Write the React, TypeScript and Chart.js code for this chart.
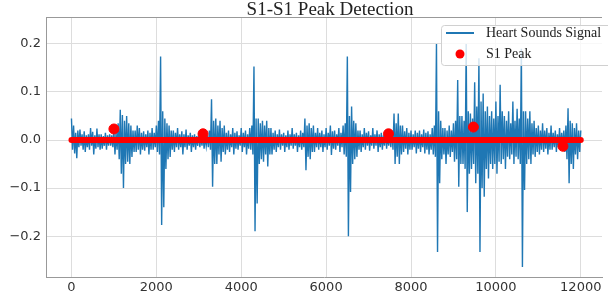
import React, { useEffect, useRef } from "react";
import { Chart, registerables } from "chart.js";
Chart.register(...registerables);

// Heart sounds signal: sample spacing and envelope (upper / lower) per 50 samples
const signalStep = 50;
const signalUpper = [
  0.045, 0.03, 0.015, 0.02, 0.022, 0.012, 0.018, 0.01, 0.012, 0.025,
  0.017, 0.01, 0.024, 0.012, 0.012, 0.008, 0.015, 0.01, 0.012, 0.01,
  0.02, 0.015, 0.035, 0.063, 0.052, 0.04, 0.05, 0.035, 0.03, 0.02,
  0.02, 0.03, 0.025, 0.015, 0.018, 0.012, 0.02, 0.015, 0.025, 0.015,
  0.03, 0.04, 0.174, 0.06, 0.045, 0.035, 0.03, 0.02, 0.02, 0.015,
  0.025, 0.012, 0.018, 0.012, 0.022, 0.01, 0.015, 0.01, 0.012, 0.008,
  0.015, 0.01, 0.012, 0.008, 0.01, 0.02, 0.085, 0.04, 0.045, 0.03,
  0.04, 0.025, 0.03, 0.015, 0.02, 0.012, 0.025, 0.015, 0.018, 0.01,
  0.025, 0.015, 0.02, 0.012, 0.025, 0.03, 0.153, 0.045, 0.045, 0.035,
  0.04, 0.03, 0.04, 0.025, 0.025, 0.015, 0.02, 0.012, 0.022, 0.012,
  0.015, 0.01, 0.02, 0.012, 0.025, 0.012, 0.015, 0.01, 0.02, 0.015,
  0.045, 0.03, 0.035, 0.025, 0.03, 0.015, 0.025, 0.015, 0.02, 0.012,
  0.025, 0.015, 0.03, 0.018, 0.02, 0.012, 0.025, 0.015, 0.03, 0.035,
  0.174, 0.05, 0.07, 0.04, 0.035, 0.02, 0.02, 0.012, 0.025, 0.015,
  0.018, 0.01, 0.025, 0.012, 0.02, 0.012, 0.015, 0.01, 0.02, 0.01,
  0.012, 0.02, 0.055, 0.035, 0.055, 0.03, 0.03, 0.018, 0.025, 0.015,
  0.02, 0.012, 0.02, 0.015, 0.02, 0.012, 0.022, 0.015, 0.018, 0.012,
  0.025, 0.03, 0.2, 0.06, 0.04, 0.025, 0.025, 0.02, 0.03, 0.02,
  0.035, 0.04, 0.125, 0.05, 0.05, 0.04, 0.2, 0.06, 0.055, 0.045,
  0.12, 0.07, 0.17, 0.08, 0.097, 0.06, 0.07, 0.05, 0.06, 0.045,
  0.08, 0.05, 0.115, 0.06, 0.05, 0.04, 0.06, 0.035, 0.08, 0.04,
  0.065, 0.045, 0.19, 0.06, 0.06, 0.045, 0.06, 0.035, 0.04, 0.025,
  0.03, 0.02, 0.035, 0.02, 0.025, 0.015, 0.03, 0.015, 0.02, 0.012,
  0.025, 0.015, 0.02, 0.03, 0.066, 0.04, 0.035, 0.025, 0.035, 0.02,
  0.02,
];
const signalLower = [
  -0.02, -0.028, -0.038, -0.015, -0.012, -0.02, -0.025, -0.015, -0.02, -0.012,
  -0.03, -0.018, -0.015, -0.02, -0.018, -0.012, -0.02, -0.012, -0.012, -0.015,
  -0.03, -0.02, -0.04, -0.07, -0.1, -0.05, -0.045, -0.05, -0.035, -0.025,
  -0.025, -0.02, -0.03, -0.02, -0.022, -0.015, -0.03, -0.02, -0.02, -0.015,
  -0.025, -0.03, -0.177, -0.14, -0.06, -0.04, -0.035, -0.02, -0.025, -0.015,
  -0.02, -0.015, -0.03, -0.015, -0.02, -0.012, -0.025, -0.015, -0.02, -0.012,
  -0.015, -0.012, -0.018, -0.012, -0.015, -0.02, -0.097, -0.05, -0.05, -0.03,
  -0.045, -0.025, -0.03, -0.02, -0.025, -0.015, -0.03, -0.018, -0.02, -0.012,
  -0.025, -0.015, -0.03, -0.018, -0.02, -0.03, -0.19, -0.132, -0.05, -0.04,
  -0.045, -0.03, -0.055, -0.03, -0.03, -0.02, -0.025, -0.015, -0.02, -0.012,
  -0.025, -0.015, -0.02, -0.012, -0.018, -0.012, -0.025, -0.015, -0.02, -0.015,
  -0.063, -0.035, -0.04, -0.025, -0.025, -0.015, -0.02, -0.015, -0.025, -0.015,
  -0.02, -0.012, -0.031, -0.018, -0.02, -0.012, -0.025, -0.015, -0.03, -0.035,
  -0.2, -0.108, -0.05, -0.04, -0.035, -0.02, -0.025, -0.015, -0.02, -0.012,
  -0.022, -0.012, -0.018, -0.012, -0.025, -0.015, -0.02, -0.012, -0.018, -0.012,
  -0.015, -0.02, -0.05, -0.035, -0.05, -0.03, -0.025, -0.018, -0.03, -0.02,
  -0.02, -0.015, -0.028, -0.018, -0.025, -0.015, -0.028, -0.02, -0.03, -0.02,
  -0.03, -0.035, -0.233, -0.09, -0.04, -0.03, -0.05, -0.03, -0.035, -0.025,
  -0.045, -0.04, -0.097, -0.05, -0.05, -0.06, -0.15, -0.07, -0.06, -0.05,
  -0.09, -0.07, -0.233, -0.1, -0.118, -0.06, -0.08, -0.05, -0.06, -0.05,
  -0.07, -0.045, -0.05, -0.04, -0.06, -0.035, -0.04, -0.03, -0.05, -0.035,
  -0.04, -0.05, -0.264, -0.104, -0.05, -0.04, -0.05, -0.03, -0.035, -0.025,
  -0.03, -0.02, -0.025, -0.018, -0.03, -0.02, -0.02, -0.015, -0.025, -0.015,
  -0.02, -0.015, -0.025, -0.04, -0.09, -0.05, -0.06, -0.03, -0.04, -0.025,
  -0.02,
];

// S1 peaks
const peakX = [1000, 3100, 7470, 9470, 11580];
const peakY = [0.023, 0.013, 0.013, 0.027, -0.013];
// the remaining peak markers all sit on zero over the whole record
const zeroPeakX = [0, 12000];

const xTicks = [0, 2000, 4000, 6000, 8000, 10000, 12000];
const yTicks = [-0.2, -0.1, 0.0, 0.1, 0.2];

const titleText = "S1-S1 Peak Detection";
const signalLabel = "Heart Sounds Signal";
const peakLabel = "S1 Peak";

const BLUE = "#1f77b4";
const RED = "#ff0000";

function buildSignal() {
  const pts: { x: number; y: number }[] = [];
  for (let i = 0; i < signalUpper.length; i++) {
    pts.push({ x: i * signalStep, y: signalUpper[i] });
    if (i < signalUpper.length - 1) pts.push({ x: i * signalStep + signalStep / 2, y: signalLower[i] });
  }
  return pts;
}

const decorPlugin = {
  id: "decor",
  afterDraw(chart: any) {
    const { ctx, chartArea } = chart;
    ctx.save();
    // top frame line
    ctx.strokeStyle = "#999999";
    ctx.lineWidth = 1;
    ctx.beginPath();
    ctx.moveTo(chartArea.left, chartArea.top + 0.5);
    ctx.lineTo(chartArea.right, chartArea.top + 0.5);
    ctx.stroke();

    // title
    ctx.fillStyle = "#222222";
    ctx.font = '19px "Liberation Serif"';
    ctx.textAlign = "center";
    ctx.textBaseline = "alphabetic";
    ctx.fillText(titleText, 330, 15);

    // legend
    const bx = 441.5, by = 25.5, bw = 180, bh = 40, r = 3;
    ctx.beginPath();
    ctx.moveTo(bx + r, by);
    ctx.lineTo(bx + bw - r, by);
    ctx.arcTo(bx + bw, by, bx + bw, by + r, r);
    ctx.lineTo(bx + bw, by + bh - r);
    ctx.arcTo(bx + bw, by + bh, bx + bw - r, by + bh, r);
    ctx.lineTo(bx + r, by + bh);
    ctx.arcTo(bx, by + bh, bx, by + bh - r, r);
    ctx.lineTo(bx, by + r);
    ctx.arcTo(bx, by, bx + r, by, r);
    ctx.closePath();
    ctx.fillStyle = "rgba(255,255,255,0.8)";
    ctx.fill();
    ctx.strokeStyle = "#d0d0d0";
    ctx.stroke();

    ctx.strokeStyle = BLUE;
    ctx.lineWidth = 2;
    ctx.beginPath();
    ctx.moveTo(446, 33);
    ctx.lineTo(474, 33);
    ctx.stroke();

    ctx.fillStyle = RED;
    ctx.beginPath();
    ctx.arc(460, 54, 4.5, 0, Math.PI * 2);
    ctx.fill();

    ctx.fillStyle = "#222222";
    ctx.font = '14px "Liberation Serif"';
    ctx.textAlign = "left";
    ctx.textBaseline = "middle";
    ctx.fillText(signalLabel, 486, 33);
    ctx.fillText(peakLabel, 486, 54);
    ctx.restore();
  },
};

export default function App() {
  const ref = useRef<HTMLCanvasElement | null>(null);
  useEffect(() => {
    if (!ref.current) return;
    const chart = new Chart(ref.current, {
      type: "line",
      data: {
        datasets: [
          {
            label: peakLabel,
            data: peakX.map((x, i) => ({ x, y: peakY[i] })),
            showLine: false,
            pointRadius: 5,
            pointBackgroundColor: RED,
            pointBorderColor: RED,
            borderColor: RED,
            backgroundColor: RED,
            order: 0,
          },
          {
            label: "zero peaks",
            data: zeroPeakX.map((x) => ({ x, y: 0 })),
            borderColor: RED,
            borderWidth: 6,
            borderCapStyle: "round",
            pointRadius: 0,
            order: 1,
          },
          {
            label: signalLabel,
            data: buildSignal(),
            borderColor: BLUE,
            borderWidth: 1.4,
            pointRadius: 0,
            tension: 0,
            order: 2,
          },
        ],
      },
      options: {
        animation: false,
        responsive: false,
        devicePixelRatio: 1,
        layout: { padding: { top: 17, right: 0, left: 0, bottom: 0 } },
        plugins: { legend: { display: false }, title: { display: false }, tooltip: { enabled: false } },
        scales: {
          x: {
            type: "linear",
            min: -600,
            max: 12500,
            afterBuildTicks: (s: any) => {
              s.ticks = xTicks.map((v) => ({ value: v }));
            },
            afterFit: (s: any) => {
              s.height = 23;
            },
            ticks: {
              autoSkip: false,
              maxRotation: 0,
              padding: 3,
              color: "#333333",
              font: { family: "DejaVu Sans", size: 13 },
              callback: (v: any) => String(v),
            },
            grid: { color: "#dddddd", drawTicks: false, lineWidth: 1 },
            border: { display: true, color: "#999999", width: 1 },
          },
          y: {
            type: "linear",
            min: -0.285,
            max: 0.256,
            afterBuildTicks: (s: any) => {
              s.ticks = yTicks.map((v) => ({ value: v }));
            },
            afterFit: (s: any) => {
              s.width = 46;
            },
            ticks: {
              autoSkip: false,
              padding: 5,
              color: "#333333",
              font: { family: "DejaVu Sans", size: 13 },
              callback: (v: any) => (v < 0 ? "\u2212" : "") + Math.abs(v).toFixed(1),
            },
            grid: { color: "#dddddd", drawTicks: false, lineWidth: 1 },
            border: { display: true, color: "#999999", width: 1 },
          },
        },
      },
      plugins: [decorPlugin],
    } as any);
    return () => chart.destroy();
  }, []);
  return (
    <div style={{ position: "fixed", left: 0, top: 0, width: 608, height: 300, background: "#fff" }}>
      <canvas ref={ref} width={608} height={300} style={{ width: 608, height: 300 }} />
    </div>
  );
}
